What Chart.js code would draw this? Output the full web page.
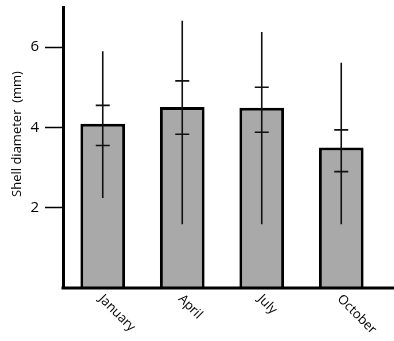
<!DOCTYPE html>
<html lang="en">
<head>
    <meta charset="UTF-8">
    <title>Shell diameter by month</title>
    <style>
        body {
            margin: 0;
            background: #ffffff;
        }
        canvas {
            display: block;
        }
    </style>
</head>
<body>
    <canvas id="shellChart" width="394" height="341"></canvas>

    <script src="https://cdn.jsdelivr.net/npm/chart.js"></script>
    <script>
        // values
        const months = ['January', 'April', 'July', 'October'];
        const meanDiameter = [4.09, 4.51, 4.49, 3.50];
        const rangeHigh = [5.90, 6.66, 6.38, 5.61];
        const rangeLow = [2.24, 1.59, 1.59, 1.59];
        const seHigh = [4.55, 5.16, 5.00, 3.94];
        const seLow = [3.55, 3.83, 3.88, 2.90];
        const yTicks = [2, 4, 6];

        const FONT = '"Open Sans", "DejaVu Sans", sans-serif';

        // whiskers: full range line with short caps at +/- SE
        const errorBars = {
            id: 'errorBars',
            afterDatasetsDraw(chart) {
                const ctx = chart.ctx;
                const x = chart.scales.x;
                const y = chart.scales.y;
                ctx.save();
                ctx.strokeStyle = '#111';
                ctx.lineWidth = 1.6;
                months.forEach((m, i) => {
                    const cx = x.getPixelForValue(i);
                    ctx.beginPath();
                    ctx.moveTo(cx, y.getPixelForValue(rangeHigh[i]));
                    ctx.lineTo(cx, y.getPixelForValue(rangeLow[i]));
                    [seHigh[i], seLow[i]].forEach(v => {
                        const py = y.getPixelForValue(v);
                        ctx.moveTo(cx - 7, py);
                        ctx.lineTo(cx + 7, py);
                    });
                    ctx.stroke();
                });
                ctx.restore();
            }
        };

        // baseline running past the last bar, slanted month names, axis title
        const axisExtras = {
            id: 'axisExtras',
            afterDraw(chart) {
                const ctx = chart.ctx;
                const x = chart.scales.x;
                const y = chart.scales.y;
                const area = chart.chartArea;
                ctx.save();
                ctx.strokeStyle = '#000';
                ctx.lineWidth = 3;
                ctx.beginPath();
                ctx.moveTo(area.left - 1.5, y.getPixelForValue(0));
                ctx.lineTo(chart.width, y.getPixelForValue(0));
                ctx.stroke();

                ctx.fillStyle = '#000';
                ctx.font = '13px ' + FONT;
                ctx.textAlign = 'left';
                ctx.textBaseline = 'middle';
                months.forEach((m, i) => {
                    ctx.save();
                    ctx.translate(x.getPixelForValue(i) - 2, 297);
                    ctx.rotate(Math.PI / 4);
                    ctx.fillText(m, 0, 0);
                    ctx.restore();
                });

                ctx.save();
                ctx.translate(17, 134);
                ctx.rotate(-Math.PI / 2);
                ctx.textAlign = 'center';
                ctx.fillText('Shell diameter  (mm)', 0, 0);
                ctx.restore();
                ctx.restore();
            }
        };

        new Chart(document.getElementById('shellChart'), {
            type: 'bar',
            data: {
                labels: months,
                datasets: [{
                    data: meanDiameter,
                    backgroundColor: '#a9a9a9',
                    borderColor: '#000',
                    borderWidth: 3,
                    barPercentage: 0.5625,
                    categoryPercentage: 1
                }]
            },
            options: {
                responsive: false,
                animation: false,
                layout: { padding: { top: 7, right: 13, left: 2, bottom: 0 } },
                plugins: {
                    legend: { display: false },
                    tooltip: { enabled: false }
                },
                scales: {
                    x: {
                        grid: { display: false },
                        border: { display: false },
                        ticks: { display: false },
                        afterFit: s => { s.height = 53; s.paddingLeft = 0; s.paddingRight = 0; }
                    },
                    y: {
                        min: 0,
                        max: 7,
                        afterBuildTicks: s => { s.ticks = yTicks.map(v => ({ value: v })); },
                        afterFit: s => { s.width = 61; s.paddingTop = 0; s.paddingBottom = 0; },
                        grid: {
                            drawOnChartArea: false,
                            tickLength: 18,
                            tickWidth: 1.5,
                            tickColor: '#000'
                        },
                        border: { color: '#000', width: 3 },
                        ticks: {
                            padding: 6,
                            color: '#000',
                            font: { family: FONT, size: 15 }
                        }
                    }
                }
            },
            plugins: [errorBars, axisExtras]
        });
    </script>
</body>
</html>
